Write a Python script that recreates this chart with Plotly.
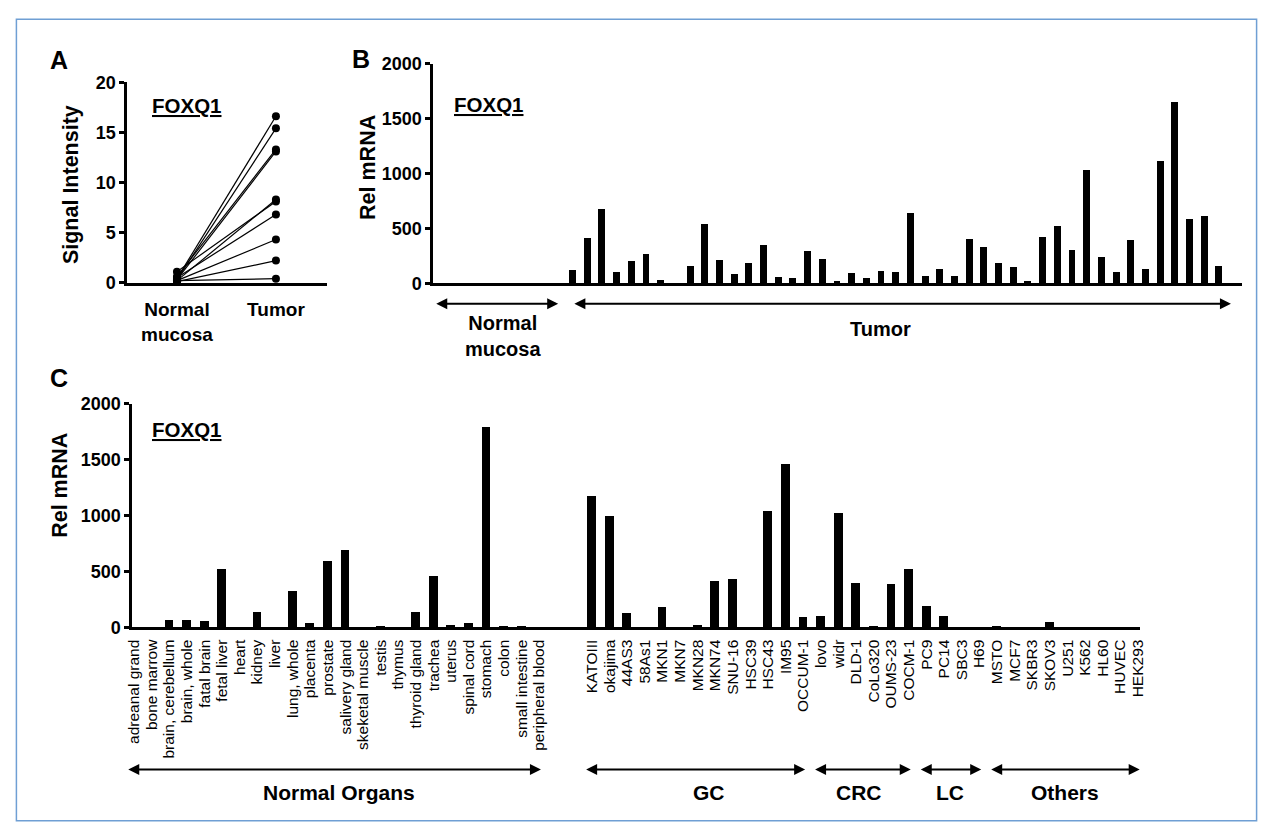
import plotly.graph_objects as go

W, H = 1272, 840


def px(x):
    return x / W


def py(y):
    return 1 - y / H


FONT = "Arial, Liberation Sans, Helvetica, sans-serif"

# ---------------- Panel A data ----------------
a_categories = ["Normal<br>mucosa", "Tumor"]
a_normal = [0.4, 0.3, 0.6, 0.3, 0.2, 1.1, 0.5, 0.2, 0.1, 0.2]
a_tumor = [16.6, 15.4, 13.3, 13.1, 8.3, 8.1, 6.8, 4.3, 2.2, 0.4]

# ---------------- Panel B data ----------------
b_normal = [2, 1, 3, 1, 2, 1, 2, 1, 1]
b_tumor = [125, 417, 679, 107, 205, 274, 33, 0, 161, 542, 217, 86, 185, 348, 57, 51,
           298, 223, 24, 98, 54, 119, 107, 640, 68, 131, 74, 408, 330, 185, 155, 27,
           429, 521, 310, 1039, 247, 107, 396, 131, 1119, 1655, 589, 616, 161]
b_ticks = [0, 500, 1000, 1500, 2000]

# ---------------- Panel C data ----------------
organs = ["adreanal grand", "bone marrow", "brain, cerebellum", "brain, whole", "fatal brain",
          "fetal liver", "heart", "kidney", "liver", "lung, whole", "placenta", "prostate",
          "salivery gland", "skeketal muscle", "testis", "thymus", "thyroid gland", "trachea",
          "uterus", "spinal cord", "stomach", "colon", "small intestine", "peripheral blood"]
organ_values = [0, 0, 67, 73, 61, 524, 0, 140, 0, 328, 44, 597, 695, 0, 15, 0, 145, 463,
                29, 44, 1795, 15, 20, 0]

gc_lines = ["KATOIII", "okajima", "44AS3", "58As1", "MKN1", "MKN7", "MKN28", "MKN74",
            "SNU-16", "HSC39", "HSC43", "IM95", "OCCUM-1"]
gc_values = [1175, 995, 132, 0, 184, 0, 25, 414, 437, 0, 1042, 1465, 95]
crc_lines = ["lovo", "widr", "DLD-1", "CoLo320", "OUMS-23", "COCM-1"]
crc_values = [103, 1025, 402, 20, 388, 522]
lc_lines = ["PC9", "PC14", "SBC3", "H69"]
lc_values = [196, 103, 0, 0]
other_lines = ["MSTO", "MCF7", "SKBR3", "SKOV3", "U251", "K562", "HL60", "HUVEC", "HEK293"]
other_values = [18, 0, 0, 50, 0, 0, 0, 0, 0]
c_groups = ["Normal Organs", "GC", "CRC", "LC", "Others"]

fig = go.Figure()

# ---- Panel A traces ----
ax_x, ax_y = [], []
for n, t in zip(a_normal, a_tumor):
    ax_x += [0, 1, None]
    ax_y += [n, t, None]
fig.add_trace(go.Scatter(x=ax_x, y=ax_y, mode="lines+markers",
                         line=dict(color="black", width=1.2),
                         marker=dict(color="black", size=8),
                         xaxis="x", yaxis="y", showlegend=False, cliponaxis=False))

# ---- Panel B traces ----
b_vals = b_normal + b_tumor
b_x = list(range(len(b_vals)))
fig.add_trace(go.Bar(x=b_x, y=b_vals, width=0.47, marker=dict(color="black", line=dict(width=0)),
                     xaxis="x2", yaxis="y2", showlegend=False))

# ---- Panel C traces ----
GAP = 2
c_names = organs + gc_lines + crc_lines + lc_lines + other_lines
c_vals = organ_values + gc_values + crc_values + lc_values + other_values
c_x = list(range(len(organs))) + [len(organs) + GAP + i for i in
                                  range(len(gc_lines) + len(crc_lines) + len(lc_lines) + len(other_lines))]
fig.add_trace(go.Bar(x=c_x, y=c_vals, width=0.5, marker=dict(color="black", line=dict(width=0)),
                     xaxis="x3", yaxis="y3", showlegend=False))

bold_tick = dict(family=FONT, size=18, color="black", weight="bold")
common_line = dict(showline=True, linecolor="black", linewidth=3, showgrid=False, zeroline=False)

layout = dict(
    width=W, height=H,
    margin=dict(l=0, r=0, t=0, b=0),
    paper_bgcolor="white", plot_bgcolor="white",
    bargap=0,
    font=dict(family=FONT, color="black"),
    xaxis=dict(domain=[px(121.7), px(323.3)], range=[-0.5, 1.516], anchor="y",
               tickvals=[0, 1], ticktext=a_categories, ticks="",
               tickfont=dict(family=FONT, size=19, color="black", weight="bold"),
               ticklabelstandoff=8, **common_line),
    yaxis=dict(domain=[py(279.3), py(74)], range=[0, 20], anchor="x",
               tickvals=[0, 5, 10, 15, 20], ticks="outside", ticklen=5, tickwidth=2.5,
               tickcolor="black", tickfont=bold_tick, **common_line),
    xaxis2=dict(domain=[px(430.7), px(1248)], range=[-0.5, 54.57], anchor="y2",
                showticklabels=False, ticks="", **common_line),
    yaxis2=dict(domain=[py(280), py(55)], range=[0, 2000], anchor="x2",
                tickvals=b_ticks, ticks="outside", ticklen=5, tickwidth=2.5,
                tickcolor="black", tickfont=bold_tick, **common_line),
    xaxis3=dict(domain=[px(126.7), px(1144.4)], range=[-0.1, 57.1], anchor="y3",
                tickvals=c_x, ticktext=c_names, tickangle=-90, ticks="",
                tickfont=dict(family=FONT, size=15.5, color="black"),
                ticklabelstandoff=3, **common_line),
    yaxis3=dict(domain=[py(632.5), py(403.3)], range=[0, 2000], anchor="x3",
                tickvals=b_ticks, ticks="outside", ticklen=5, tickwidth=2.5,
                tickcolor="black", tickfont=bold_tick, **common_line),
)

ann = []


def label(text, x, y, size, angle=0, xref="paper", yref="paper"):
    ann.append(dict(text=text, x=x, y=y, xref=xref, yref=yref, showarrow=False,
                    textangle=angle, xanchor="center", yanchor="middle",
                    font=dict(family=FONT, size=size, color="black", weight="bold")))


# panel letters
label("A", px(52.5), py(51), 25)
label("B", px(358), py(50), 25)
label("C", px(52.5), py(376.5), 25)
# gene names
label("<u>FOXQ1</u>", px(181.7), py(98), 20.5)
label("<u>FOXQ1</u>", px(487), py(97), 20.5)
label("<u>FOXQ1</u>", px(181.7), py(430), 20.5)
# axis titles
label("Signal Intensity", px(64), py(179), 21.5, angle=-90)
label("Rel mRNA", px(364), py(161.5), 21.5, angle=-90)
label("Rel mRNA", px(54), py(487), 21.5, angle=-90)


def arrow(x0, x1, yp, xref):
    ann.append(dict(text="", x=x1, ax=x0, xref=xref, axref=xref, y=py(yp), yref="paper",
                    ay=0, ayref="pixel", showarrow=True, arrowside="end+start",
                    arrowhead=2, startarrowhead=2, arrowsize=1.1, startarrowsize=1.1,
                    arrowwidth=2, arrowcolor="black"))


# Panel B groups
nb = len(b_normal)
arrow(-0.4, nb - 1 + 0.0, 301, "x2")
arrow(nb + 0.0, len(b_vals) - 1 + 0.8, 301, "x2")
label("Normal<br>mucosa", 4.24, py(333.5), 20, xref="x2")
label("Tumor", 29.94, py(327), 20, xref="x2")

# Panel C groups
sizes = [len(organs), len(gc_lines), len(crc_lines), len(lc_lines), len(other_lines)]
starts = []
pos = 0
for i, s in enumerate(sizes):
    starts.append(pos)
    pos += s + (GAP if i == 0 else 0)
label_shift = [0.3, 0.8, -0.2, 0.0, 0.0]
for g, st, s, sh in zip(c_groups, starts, sizes, label_shift):
    x0, x1 = st - 0.42, st + s - 1 + 0.1
    arrow(x0, x1, 778, "x3")
    label(g, (x0 + x1) / 2 + sh, py(802), 21, xref="x3")

layout["annotations"] = ann
layout["shapes"] = [dict(type="rect", xref="paper", yref="paper",
                         x0=px(9.5), x1=px(1262.5), y0=py(830.5), y1=py(9.5),
                         line=dict(color="#6f9fd4", width=1.5))]

fig.update_layout(**layout)
fig.write_html("out.html", config={"displayModeBar": False},
               post_script="document.body.style.margin='0px';document.body.style.overflow='hidden';")
